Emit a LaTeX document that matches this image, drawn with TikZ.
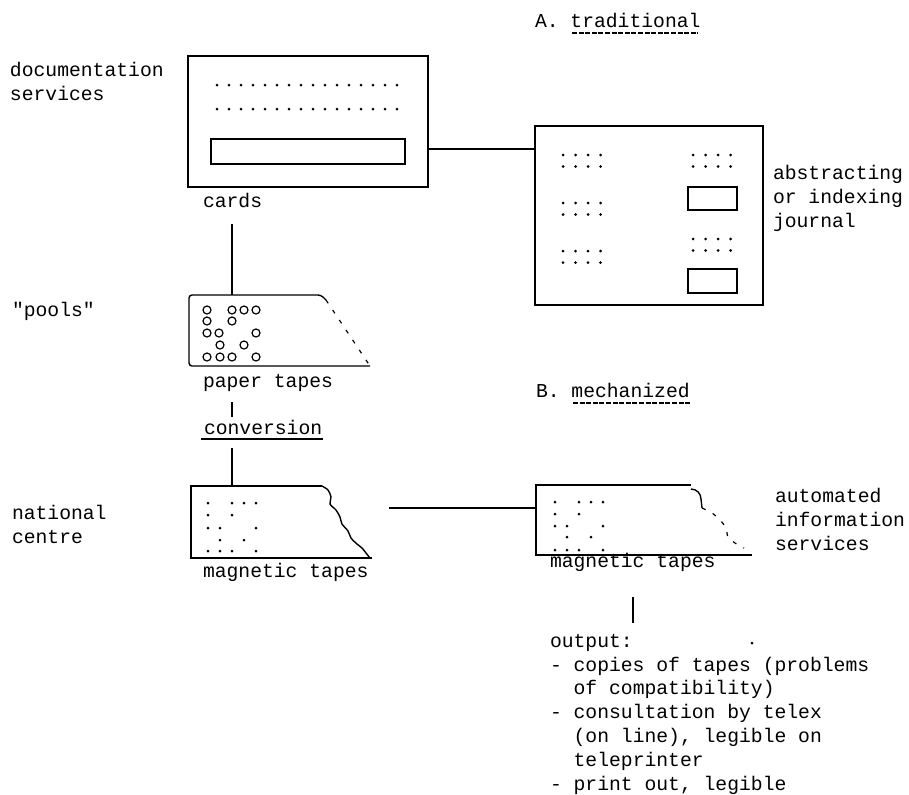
\documentclass[tikz,border=0pt]{standalone}
\usepackage{fontspec}
\setmainfont{Liberation Mono}
\begin{document}
\begin{tikzpicture}[x=0.5pt,y=-0.5pt,
  every node/.style={inner sep=0pt,outer sep=0pt,font=\fontsize{9.85}{11.9}\selectfont},
  lbl/.style={anchor=base west,align=left},
  box/.style={draw,line width=0.7pt},
  slot/.style={draw,line width=0.7pt},
  conn/.style={line width=0.7pt},
  edge/.style={line width=0.7pt},
  ragged/.style={line width=0.6pt,dash pattern=on 2pt off 4pt},
  uline/.style={line width=0.6pt},
  dline/.style={line width=0.9pt,dash pattern=on 2.5pt off 0.8pt},
  hole/.style={line width=0.6pt}]
\useasboundingbox (0,0) rectangle (909,794);

% ---------- A. traditional ----------
\node[lbl] (titleA) at (535,27) {A. traditional};
\draw[dline] (572,33) -- (698,33);

% (base anchor of a multi-line node = baseline of its last line)
\node[lbl] (docsvc) at (10,100) {documentation\\services};

% cards
\node[box,minimum width=120pt,minimum height=65.5pt] (cards) at (308,121.5) {};
\node[slot,minimum width=97pt,minimum height=12.5pt] (cardslot) at (308,151.5) {};
\foreach \i in {0,...,15}{
  \fill (217+12*\i,85) circle (1.5);
  \fill (217+12*\i,109) circle (1.5);
}
\node[lbl] (cardslbl) at (203,207) {cards};

% journal
\node[box,minimum width=114pt,minimum height=89.5pt] (journal) at (649,215.5) {};
\node[slot,minimum width=24.5pt,minimum height=11.5pt] (jslot1) at (712.5,198.5) {};
\node[slot,minimum width=24.5pt,minimum height=12pt] (jslot2) at (712.5,281) {};
\foreach \gx/\gy in {563/155,563/203,563/251,693/155,693/239}{
  \foreach \c in {0,...,3}{
    \fill (\gx+12.5*\c,\gy) circle (1.5);
    \fill (\gx+12.5*\c,\gy+11.5) circle (1.5);
  }
}
\node[lbl] (abstr) at (773,227) {abstracting\\or indexing\\journal};

\draw[conn] (cards.east |- 0,149) -- (journal.west |- 0,149);

% ---------- paper tapes ----------
\node[lbl] (pools) at (12,316) {\textquotedbl pools\textquotedbl};
\coordinate (pt-top) at (232,295);
\coordinate (c-from) at (232,224);
\draw[conn] (c-from) -- (pt-top);
\draw[edge,rounded corners=1.5pt] (326,300) -- (321,295) -- (189,295) -- (189,366) -- (370,366);
\draw[ragged] (326,300) -- (370,366);
\foreach \x/\y in {207/310,232/310,244/310,256/310,
                   207/321,232/321,
                   207/333,219/333,256/333,
                   220/345,244/345,
                   207/357,220/357,232/357,256/357}{
  \draw[hole] (\x,\y) circle (4);
}
\node[lbl] (ptlbl) at (203,387) {paper tapes};

\coordinate (p1) at (232,402);
\coordinate (p2) at (232,417);
\draw[conn] (p1) -- (p2);
\node[lbl] (conv) at (204,434) {conversion};
\draw[uline] (201,439) -- (323,439);
\coordinate (p3) at (232,448);
\coordinate (mt1-top) at (232,486);
\draw[conn] (p3) -- (mt1-top);

% ---------- magnetic tapes (national centre) ----------
\node[lbl] (natc) at (12,543) {national\\centre};
\draw[edge] (322,486) -- (191,486) -- (191,558) -- (372,558);
\draw[edge] plot[smooth] coordinates {(322,486)(328,490)(331,497)(330,504)(336,510)(340,517)(342,524)(348,531)(351,538)(357,544)(362,548)(366,553)(370,558)};
\foreach \x/\y in {208/503,232/503,244/503,256/503,
                   208/515,232/515,
                   208/528,220/528,256/528,
                   220/540,244/540,
                   208/551,220/551,232/551,256/551}{
  \fill (\x,\y) circle (1.5);
}
\node[lbl] (mt1lbl) at (203,577) {magnetic tapes};

% ---------- B. mechanized ----------
\node[lbl] (titleB) at (536,397) {B. mechanized};
\draw[dline] (573,403) -- (690,403);

\coordinate (h1) at (389,508);
\coordinate (mt2-left) at (536,508);
\draw[conn] (h1) -- (mt2-left);

\draw[edge] (691,485) -- (536,485) -- (536,555) -- (752,555);
\draw[edge] (691,489) to[out=0,in=90] (701,499) -- (702,508);
\draw[ragged] plot[smooth] coordinates {(702,508)(712,513)(720,520)(726,528)(728,537)(735,543)(744,548)};
\foreach \x/\y in {208/502,232/502,244/502,256/502,
                   208/514,232/514,
                   208/526,220/526,256/526,
                   220/537,244/537,
                   208/550,220/550,232/550,256/550}{
  \fill (\x+347,\y) circle (1.5);
}
\node[lbl] (mt2lbl) at (550,567) {magnetic tapes};
\node[lbl] (autinf) at (775,550) {automated\\information\\services};

\coordinate (o1) at (633,597);
\coordinate (o2) at (633,623);
\draw[conn] (o1) -- (o2);

\node[lbl] (output) at (550,790) {output:\\
- copies of tapes (problems\\
\phantom{- }of compatibility)\\
- consultation by telex\\
\phantom{- }(on line), legible on\\
\phantom{- }teleprinter\\
- print out, legible};
\fill (752,643) circle (1.5);
\end{tikzpicture}
\end{document}
